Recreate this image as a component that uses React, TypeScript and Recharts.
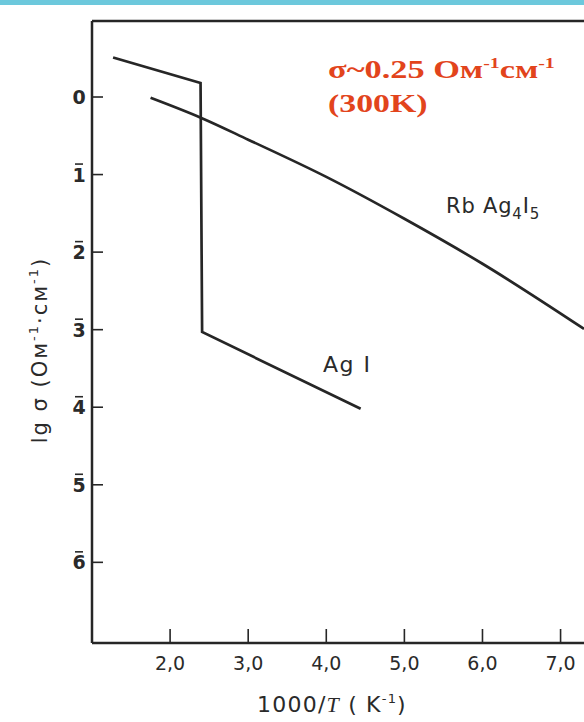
import React from "react";
import { LineChart, Line, XAxis, YAxis, Label, ReferenceLine, Customized } from "recharts";

// AgI: jump at the phase transition (~147 C)
const agiX = [1.27, 2.39, 2.41, 4.44];
const agiY = [0.51, 0.18, -3.03, -4.02];

// RbAg4I5
const rbX = [1.75, 2.4, 3.0, 4.0, 5.0, 6.0, 7.3];
const rbY = [-0.01, -0.27, -0.55, -1.03, -1.57, -2.15, -2.99];

const xTicks = [2, 3, 4, 5, 6, 7];
const yTicks = [0, -1, -2, -3, -4, -5, -6];
const xDomain = [1, 7.3];
const yDomain = [-7.04, 0.98];

const agiData = agiX.map((x, i) => ({ x, y: agiY[i] }));
const rbData = rbX.map((x, i) => ({ x, y: rbY[i] }));

const INK = "#262626";
const RED = "#e2441c";
const SANS = "'DejaVu Sans', sans-serif";
const SERIF = "'Liberation Serif', serif";

function XTick(props: any) {
  const { x, y, payload } = props;
  return (
    <g>
      <line x1={x} x2={x} y1={y} y2={y - 14} stroke={INK} strokeWidth={1.6} />
      <text x={x} y={y + 27} textAnchor="middle" fontSize={19} fill="#2a2a2a" fontFamily={SANS}>
        {Number(payload.value).toFixed(1).replace(".", ",")}
      </text>
    </g>
  );
}

function YTick(props: any) {
  const { x, y, payload } = props;
  const v = Math.abs(Number(payload.value));
  return (
    <g>
      <line x1={x} x2={x + 11} y1={y} y2={y} stroke={INK} strokeWidth={1.6} />
      <text x={x - 13} y={y + 7} textAnchor="middle" fontSize={19} fontWeight="bold" fill="#2a2a2a" fontFamily={SANS}>
        {v}
      </text>
      {v !== 0 && <line x1={x - 17} x2={x - 9} y1={y - 10.5} y2={y - 10.5} stroke="#2a2a2a" strokeWidth={1.6} />}
    </g>
  );
}

function XTitle() {
  return (
    <text x={332} y={712} textAnchor="middle" fontSize={22} letterSpacing={1.2} fill="#2a2a2a" fontFamily={SANS}>
      1000/<tspan fontStyle="italic" fontFamily={SERIF}>T</tspan> ( K
      <tspan fontSize={13} dy={-9}>-1</tspan>
      <tspan dy={9}>)</tspan>
    </text>
  );
}

function YTitle() {
  return (
    <text transform="translate(47,350) rotate(-90)" textAnchor="middle" fontSize={21} letterSpacing={2} fill="#2a2a2a" fontFamily={SANS}>
      lg σ (Ом<tspan fontSize={13} dy={-9}>-1</tspan>
      <tspan dy={9}>·см</tspan>
      <tspan fontSize={13} dy={-9}>-1</tspan>
      <tspan dy={9}>)</tspan>
    </text>
  );
}

function Notes() {
  return (
    <g>
      <text transform="translate(328,78) scale(1.32,1)" fontSize={26} fontWeight="bold" fill={RED} fontFamily={SERIF}>
        σ~0.25 Ом<tspan fontSize={15} dy={-10}>-1</tspan>
        <tspan dy={10}>см</tspan>
        <tspan fontSize={15} dy={-10}>-1</tspan>
      </text>
      <text transform="translate(328,112) scale(1.3,1)" fontSize={26} fontWeight="bold" fill={RED} fontFamily={SERIF}>
        (300K)
      </text>
      <text x={446} y={213} fontSize={21} letterSpacing={0.8} fill="#2a2a2a" fontFamily={SANS}>
        Rb Ag<tspan fontSize={15} dy={6}>4</tspan>
        <tspan dy={-6}>I</tspan>
        <tspan fontSize={15} dy={6}>5</tspan>
      </text>
      <text x={323} y={372} fontSize={22} letterSpacing={1.5} fill="#2a2a2a" fontFamily={SANS}>
        Ag I
      </text>
      <YTitle />
      <XTitle />
    </g>
  );
}

export default function App() {
  return (
    <div style={{ position: "absolute", left: 0, top: 0, width: 584, height: 722, background: "#fff" }}>
      <div style={{ position: "absolute", left: 0, top: 0, width: 584, height: 5, background: "#6cc8dc" }} />
      <LineChart width={584} height={722} margin={{ top: 21, right: 0, bottom: 40, left: 0 }}>
        <XAxis
          type="number"
          dataKey="x"
          domain={xDomain}
          allowDataOverflow
          ticks={xTicks}
          tick={<XTick />}
          tickLine={false}
          tickSize={0}
          tickMargin={0}
          height={39}
          axisLine={{ stroke: INK, strokeWidth: 2.5 }}
        />
        <YAxis
          type="number"
          dataKey="y"
          domain={yDomain}
          allowDataOverflow
          ticks={yTicks}
          tick={<YTick />}
          tickLine={false}
          tickSize={0}
          tickMargin={0}
          width={92}
          axisLine={{ stroke: INK, strokeWidth: 2.5 }}
        />
        <ReferenceLine y={yDomain[1]} stroke={INK} strokeWidth={2.5} />
        <Line data={agiData} dataKey="y" type="linear" stroke={INK} strokeWidth={2.7} dot={false} isAnimationActive={false} />
        <Line data={rbData} dataKey="y" type="monotone" stroke={INK} strokeWidth={2.7} dot={false} isAnimationActive={false} />
        <Customized component={<Notes />} />
      </LineChart>
    </div>
  );
}
